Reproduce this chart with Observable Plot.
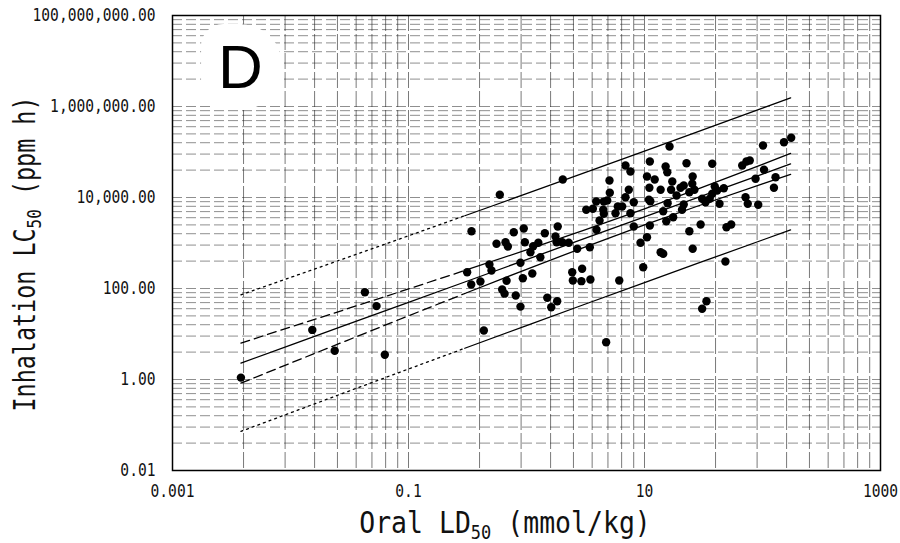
<!DOCTYPE html>
<html><head><meta charset="utf-8">
<script src="https://cdn.jsdelivr.net/npm/d3@7"></script>
<script src="https://cdn.jsdelivr.net/npm/@observablehq/plot@0.6"></script>
<style>body{margin:0;background:#fff;}</style>
</head><body><div id="chart"></div>
<script>
// Scatter: oral LD50 (mmol/kg) vs inhalation LC50 (ppm h)
const oralLD50 = [
 0.0038,0.0153,0.0237,0.0427,0.0536,0.063,
 0.594,2.03,0.342,0.557,0.664,0.695,0.78,0.948,0.968,1.14,1.26,1.43,1.84,1.76,1.80,2.01,2.28,
 1.08,1.31,0.889,0.485,0.505,0.314,0.34,0.407,0.678,0.931,1.12,0.622,0.652,0.811,0.889,1.50,1.62,1.82,
 0.435,2.69,3.44,2.44,2.96,2.47,2.92,3.48,4.73,6.11,9.75,9.25,10.5,8.11,3.92,4.16,4.52,4.47,3.21,3.65,
 3.90,4.52,4.83,5.08,5.05,5.94,6.47,5.68,7.60,6.90,7.36,8.11,6.90,7.60,10.5,11.1,10.9,11.1,
 16.3,22.7,37.5,15.1,15.6,12.2,17.2,25.6,25.4,11.0,13.7,16.8,20.2,21.5,24.0,26.5,18.7,11.2,15.7,21.5,
 20.8,14.4,30.8,32.9,35.7,37.5,39.4,41.3,47.0,43.2,17.5,15.3,29.9,24.0,49.5,54.3,67.3,73.1,78.0,101,
 152,175,103,87.3,129,125,71.8,75.0,92.0,48.5,25.6,13.7,14.4,33.5,30.8
];
const inhalationLC50 = [
 1.1,12.3,4.3,83,41,3.5,
 11460,24900,1816,960,1042,838,1726,2084,1042,851,1009,1641,2306,1390,1042,1042,1009,
 628,487,367,337,249,228,122,142,148,168,214,95,77,70,40,62.5,38.8,52.6,
 11.9,746,809,228,271,150,145,158,6.6,150,294,1009,1340,2306,1950,3126,4385,5370,5370,5650,
 8170,8170,8590,12680,23660,6340,6340,4520,4520,10160,14760,7890,50500,37250,28970,61800,8900,2425,
 132000,56800,55100,48000,36000,24900,22500,28970,20000,16330,14760,14760,16330,18370,13070,14760,11070,8300,7500,7020,
 5370,5000,9360,7890,9360,12050,17460,14250,16000,7270,3690,3010,2550,1816,2220,2550,50500,61800,65000,139000,
 164000,205000,40600,25800,27900,16330,10160,7270,6920,392,746,628,579,52.6,35.8
];

// Regression line, 95% confidence band and prediction band
const fitX      = [0.0038, 0.01, 0.03, 0.1, 0.3, 1, 3, 10, 30, 100, 173];
const fitMid    = [2.29, 5.69, 16.0, 49.5, 139, 432, 1211, 3758, 10540, 32700, 54800];
const ciUpper   = [6.32, 14.2, 35.5, 97.7, 249, 705, 1866, 5650, 16250, 53450, 93100];
const ciLower   = [0.83, 2.29, 7.18, 25.1, 77.6, 264, 785, 2500, 6840, 20040, 32300];
const piUpper   = [72.4, 175, 476, 1442, 3972, 12130, 33800, 104700, 294400, 920000, 1552000];
const piLower   = [0.0724, 0.185, 0.535, 1.70, 4.86, 15.3, 43.4, 135, 378, 1164, 1936];
const dashEndX  = 0.3;

const xTickValues = [0.001, 0.1, 10, 1000];
const xTickLabels = ["0.001", "0.1", "10", "1000"];
const yTickValues = [0.01, 1, 100, 1e4, 1e6, 1e8];
const yTickLabels = ["0.01", "1.00", "100.00", "10,000.00", "1,000,000.00", "100,000,000.00"];
const panelLabel = "D";

// graph-paper lines (each printed cycle spans two axis decades)
const gridX = [], gridY = [];
for (const b of [0.001, 0.1, 10]) for (let k = 1; k <= 9; k++) gridX.push(b * k * k);
gridX.push(1000);
for (const b of [0.01, 1, 100, 1e4, 1e6]) for (let k = 1; k <= 9; k++) gridY.push(b * k * k);
gridY.push(1e8);

const points = oralLD50.map((x, i) => ({x, y: inhalationLC50[i]}));
const rows = (ys, name) => fitX.map((x, i) => ({x, y: ys[i], name}));
const ciRows = [...rows(ciUpper, "ciU"), ...rows(ciLower, "ciL")];
const piRows = [...rows(piUpper, "piU"), ...rows(piLower, "piL")];
const midRows = rows(fitMid, "mid");

const chart = Plot.plot({
  width: 900, height: 543,
  marginLeft: 172, marginRight: 20, marginTop: 15, marginBottom: 73,
  style: {fontFamily: "DejaVu Sans Mono, monospace", background: "white", color: "#111"},
  x: {type: "log", domain: [0.001, 1000]},
  y: {type: "log", domain: [0.01, 1e8]},
  marks: [
    Plot.ruleY(gridY, {stroke: "#333", strokeOpacity: 0.55, strokeDasharray: "10,4"}),
    Plot.ruleX(gridX, {stroke: "#222", strokeOpacity: 0.6, strokeDasharray: "16,3"}),
    Plot.text([panelLabel], {frameAnchor: "top-left", dx: 68, dy: 53, fontSize: 62,
      textAnchor: "middle", lineAnchor: "middle",
      fontFamily: "Liberation Sans, Arial, sans-serif", fill: "black", stroke: "white", strokeWidth: 44}),
    Plot.line(piRows.filter(d => d.x <= dashEndX), {x: "x", y: "y", z: "name", stroke: "black", strokeWidth: 1.3, strokeDasharray: "2,4"}),
    Plot.line(piRows.filter(d => d.x >= dashEndX), {x: "x", y: "y", z: "name", stroke: "black", strokeWidth: 1.3}),
    Plot.line(ciRows.filter(d => d.x <= dashEndX), {x: "x", y: "y", z: "name", stroke: "black", strokeWidth: 1.3, strokeDasharray: "9,5"}),
    Plot.line(ciRows.filter(d => d.x >= dashEndX), {x: "x", y: "y", z: "name", stroke: "black", strokeWidth: 1.3}),
    Plot.line(midRows, {x: "x", y: "y", stroke: "black", strokeWidth: 1.3}),
    Plot.dot(points, {x: "x", y: "y", r: 4.2, fill: "black"}),
    Plot.frame({stroke: "black", strokeWidth: 1.5}),
    Plot.axisX(xTickValues, {tickSize: 0, tickPadding: 14, fontSize: 14.6, label: null,
      tickFormat: d => xTickLabels[xTickValues.indexOf(d)]}),
    Plot.axisY(yTickValues, {tickSize: 0, tickPadding: 17, fontSize: 14.6, label: null,
      tickFormat: d => yTickLabels[yTickValues.indexOf(d)]})
  ]
});
document.getElementById("chart").append(chart);

const svg = d3.select(chart);
// stretch tick labels vertically (tall condensed gothic in the original)
svg.selectAll('g[aria-label="x-axis tick label"] text, g[aria-label="y-axis tick label"] text').each(function () {
  const t = d3.select(this).attr("transform") || "";
  d3.select(this).attr("transform", t + " scale(1,1.2)");
});

// axis titles with subscripts
const xt = svg.append("text").attr("transform", "translate(505,533) scale(1,1.12)").attr("text-anchor", "middle")
  .attr("font-size", 26.5).attr("font-family", "DejaVu Sans Mono, monospace").attr("fill", "#111");
xt.append("tspan").text("Oral LD");
xt.append("tspan").attr("font-size", 17).attr("dy", 5).text("50");
xt.append("tspan").attr("dy", -5).text(" (mmol/kg)");
const yt = svg.append("text").attr("transform", "translate(35,254) rotate(-90) scale(1,1.25)").attr("text-anchor", "middle")
  .attr("font-size", 23.4).attr("font-family", "DejaVu Sans Mono, monospace").attr("fill", "#111");
yt.append("tspan").text("Inhalation LC");
yt.append("tspan").attr("font-size", 16).attr("dy", 5).text("50");
yt.append("tspan").attr("dy", -5).text(" (ppm h)");
</script>
</body></html>
